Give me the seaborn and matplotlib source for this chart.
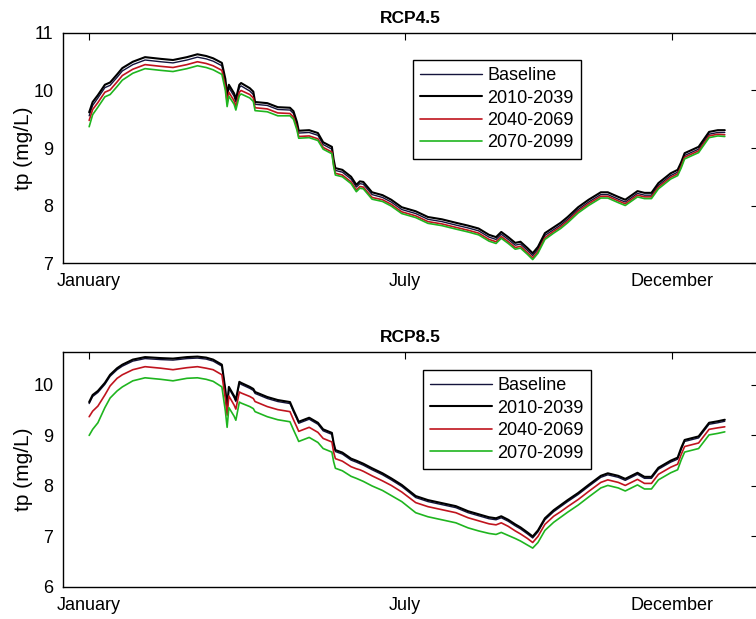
import numpy as np
import pandas as pd
import matplotlib
matplotlib.use("Agg")
import matplotlib.pyplot as plt
import seaborn as sns

# Day of year for each sample
DAYS = [1, 3, 6, 10, 13, 17, 20, 26, 33, 42, 49, 57, 63, 68, 72, 77, 79, 80, 81, 84,
        85, 87, 88, 93, 95, 96, 103, 109, 116, 118, 120, 121, 127, 132, 135, 140, 141, 142, 146, 151,
        154, 156, 158, 163, 169, 174, 180, 188, 195, 203, 211, 218, 224, 230, 234, 237, 241, 245, 248, 252,
        255, 258, 262, 267, 271, 275, 281, 287, 294, 298, 304, 308, 315, 319, 323, 327, 334, 338, 340, 342,
        350, 356, 361, 365]

SERIES = ["Baseline", "2010-2039", "2040-2069", "2070-2099"]

# RCP4.5 total phosphorus (mg/L)
RCP45_BASE = [9.56, 9.74, 9.87, 10.05, 10.09, 10.23, 10.34, 10.45, 10.53, 10.50, 10.48, 10.53, 10.58, 10.55, 10.51, 10.43, 10.15, 9.87, 10.05, 9.90,
              9.80, 10.05, 10.08, 9.99, 9.93, 9.76, 9.74, 9.67, 9.66, 9.60, 9.41, 9.26, 9.27, 9.22, 9.06, 8.98, 8.76, 8.61, 8.58, 8.46,
              8.32, 8.38, 8.37, 8.19, 8.14, 8.06, 7.93, 7.86, 7.76, 7.72, 7.66, 7.61, 7.56, 7.45, 7.41, 7.50, 7.41, 7.31, 7.33, 7.22,
              7.13, 7.24, 7.48, 7.58, 7.66, 7.76, 7.93, 8.06, 8.19, 8.19, 8.11, 8.06, 8.21, 8.18, 8.18, 8.35, 8.52, 8.58, 8.71, 8.87,
              8.98, 9.24, 9.27, 9.27]
RCP45_2010 = [9.62, 9.80, 9.92, 10.10, 10.14, 10.28, 10.39, 10.50, 10.58, 10.55, 10.53, 10.58, 10.63, 10.60, 10.56, 10.48, 10.20, 9.92, 10.10, 9.95,
              9.85, 10.10, 10.13, 10.04, 9.98, 9.80, 9.78, 9.71, 9.70, 9.64, 9.45, 9.30, 9.31, 9.26, 9.10, 9.02, 8.80, 8.65, 8.62, 8.50,
              8.36, 8.42, 8.41, 8.23, 8.18, 8.10, 7.97, 7.90, 7.80, 7.76, 7.70, 7.65, 7.60, 7.49, 7.45, 7.54, 7.45, 7.35, 7.37, 7.26,
              7.17, 7.28, 7.52, 7.62, 7.70, 7.80, 7.97, 8.10, 8.23, 8.23, 8.15, 8.10, 8.25, 8.22, 8.22, 8.39, 8.56, 8.62, 8.75, 8.91,
              9.02, 9.28, 9.31, 9.31]
RCP45_2040 = [9.48, 9.67, 9.79, 9.97, 10.01, 10.15, 10.26, 10.37, 10.45, 10.42, 10.40, 10.45, 10.50, 10.47, 10.43, 10.35, 10.07, 9.79, 9.97, 9.82,
              9.72, 9.97, 10.00, 9.93, 9.87, 9.70, 9.68, 9.61, 9.60, 9.54, 9.35, 9.20, 9.21, 9.16, 9.01, 8.93, 8.71, 8.56, 8.53, 8.41,
              8.27, 8.33, 8.32, 8.14, 8.10, 8.02, 7.89, 7.82, 7.72, 7.68, 7.62, 7.57, 7.52, 7.41, 7.37, 7.46, 7.37, 7.27, 7.29, 7.18,
              7.09, 7.20, 7.44, 7.55, 7.63, 7.73, 7.90, 8.03, 8.16, 8.16, 8.08, 8.03, 8.18, 8.15, 8.15, 8.32, 8.49, 8.55, 8.68, 8.84,
              8.95, 9.21, 9.24, 9.23]
RCP45_2070 = [9.37, 9.58, 9.71, 9.89, 9.93, 10.07, 10.18, 10.30, 10.38, 10.35, 10.33, 10.38, 10.43, 10.40, 10.36, 10.28, 10.00, 9.72, 9.90, 9.76,
              9.66, 9.91, 9.94, 9.87, 9.81, 9.65, 9.63, 9.56, 9.56, 9.50, 9.31, 9.17, 9.18, 9.13, 8.98, 8.90, 8.68, 8.53, 8.50, 8.38,
              8.24, 8.30, 8.29, 8.11, 8.07, 7.99, 7.86, 7.79, 7.69, 7.65, 7.59, 7.54, 7.49, 7.38, 7.34, 7.43, 7.34, 7.24, 7.26, 7.15,
              7.06, 7.17, 7.41, 7.52, 7.60, 7.70, 7.87, 8.00, 8.13, 8.13, 8.05, 8.00, 8.15, 8.12, 8.12, 8.29, 8.46, 8.52, 8.65, 8.81,
              8.92, 9.18, 9.21, 9.20]

# RCP8.5 total phosphorus (mg/L)
RCP85_BASE = [9.63, 9.77, 9.85, 10.01, 10.17, 10.30, 10.37, 10.47, 10.52, 10.50, 10.49, 10.52, 10.53, 10.51, 10.47, 10.37, 9.87, 9.53, 9.93, 9.75,
              9.67, 10.03, 10.01, 9.93, 9.89, 9.83, 9.73, 9.67, 9.63, 9.47, 9.32, 9.24, 9.32, 9.22, 9.09, 9.02, 8.82, 8.68, 8.63, 8.51,
              8.47, 8.44, 8.41, 8.32, 8.22, 8.12, 7.99, 7.77, 7.69, 7.63, 7.57, 7.47, 7.41, 7.35, 7.33, 7.37, 7.30, 7.21, 7.15, 7.05,
              6.97, 7.09, 7.33, 7.49, 7.59, 7.69, 7.83, 7.99, 8.17, 8.22, 8.17, 8.11, 8.23, 8.15, 8.15, 8.33, 8.47, 8.53, 8.72, 8.88,
              8.95, 9.22, 9.25, 9.28]
RCP85_2010 = [9.66, 9.80, 9.88, 10.04, 10.20, 10.33, 10.40, 10.50, 10.55, 10.53, 10.52, 10.55, 10.56, 10.54, 10.50, 10.40, 9.90, 9.56, 9.96, 9.78,
              9.70, 10.06, 10.04, 9.96, 9.92, 9.86, 9.76, 9.70, 9.66, 9.50, 9.35, 9.27, 9.35, 9.25, 9.12, 9.05, 8.85, 8.71, 8.66, 8.54,
              8.50, 8.47, 8.44, 8.35, 8.25, 8.15, 8.02, 7.80, 7.72, 7.66, 7.60, 7.50, 7.44, 7.38, 7.36, 7.40, 7.33, 7.24, 7.18, 7.08,
              7.00, 7.12, 7.36, 7.52, 7.62, 7.72, 7.86, 8.02, 8.20, 8.25, 8.20, 8.14, 8.26, 8.18, 8.18, 8.36, 8.50, 8.56, 8.75, 8.91,
              8.98, 9.25, 9.28, 9.31]
RCP85_2040 = [9.37, 9.48, 9.58, 9.80, 9.98, 10.13, 10.20, 10.30, 10.36, 10.33, 10.30, 10.34, 10.36, 10.33, 10.30, 10.20, 9.72, 9.40, 9.78, 9.60,
              9.52, 9.86, 9.84, 9.77, 9.73, 9.67, 9.57, 9.51, 9.47, 9.31, 9.16, 9.08, 9.16, 9.06, 8.94, 8.87, 8.67, 8.54, 8.49, 8.38,
              8.34, 8.32, 8.29, 8.20, 8.10, 8.01, 7.88, 7.67, 7.59, 7.53, 7.47, 7.37, 7.31, 7.25, 7.23, 7.27, 7.20, 7.11, 7.05, 6.96,
              6.88, 7.00, 7.24, 7.40, 7.49, 7.59, 7.73, 7.89, 8.07, 8.12, 8.07, 8.01, 8.13, 8.05, 8.05, 8.23, 8.37, 8.43, 8.62, 8.78,
              8.85, 9.12, 9.15, 9.17]
RCP85_2070 = [9.00, 9.12, 9.25, 9.55, 9.74, 9.88, 9.96, 10.08, 10.14, 10.11, 10.08, 10.13, 10.14, 10.11, 10.07, 9.96, 9.48, 9.16, 9.55, 9.38,
              9.30, 9.66, 9.64, 9.57, 9.53, 9.47, 9.37, 9.31, 9.27, 9.11, 8.96, 8.88, 8.96, 8.86, 8.74, 8.67, 8.48, 8.35, 8.30, 8.19,
              8.15, 8.12, 8.09, 8.00, 7.91, 7.81, 7.69, 7.47, 7.39, 7.33, 7.27, 7.17, 7.11, 7.06, 7.04, 7.08, 7.02, 6.96, 6.91, 6.83,
              6.77, 6.88, 7.12, 7.28, 7.38, 7.48, 7.62, 7.78, 7.96, 8.01, 7.96, 7.90, 8.02, 7.94, 7.94, 8.12, 8.26, 8.32, 8.51, 8.67,
              8.74, 9.01, 9.04, 9.07]

MONTH_TICKS = [1, 182, 335]
MONTH_LABELS = ["January", "July", "December"]

COLORS = {"Baseline": "#14143c", "2010-2039": "#000000", "2040-2069": "#c0141e", "2070-2099": "#1fb51f"}
WIDTHS = {"Baseline": 1.0, "2010-2039": 1.5, "2040-2069": 1.2, "2070-2099": 1.2}


def long_table(values):
    frames = [pd.DataFrame({"day": DAYS, "tp": v, "period": name}) for name, v in zip(SERIES, values)]
    return pd.concat(frames, ignore_index=True)


sns.set_style("white")
plt.rcParams["font.family"] = ["Liberation Sans", "DejaVu Sans"]
plt.rcParams["text.color"] = "black"
plt.rcParams["axes.labelcolor"] = "black"

fig = plt.figure(figsize=(7.56, 6.19), dpi=100)
ax_top = fig.add_axes([0.0833, 0.5751, 0.9193, 0.3716])
ax_bot = fig.add_axes([0.0833, 0.0517, 0.9193, 0.3796])

panels = [
    (ax_top, "RCP4.5", [RCP45_BASE, RCP45_2010, RCP45_2040, RCP45_2070], (7, 11), [7, 8, 9, 10, 11], (0.504, 0.883)),
    (ax_bot, "RCP8.5", [RCP85_BASE, RCP85_2010, RCP85_2040, RCP85_2070], (6, 10.65), [6, 7, 8, 9, 10], (0.518, 0.923)),
]

for ax, title, values, ylim, yticks, anchor in panels:
    df = long_table(values)
    for name in SERIES:
        sub = df[df["period"] == name]
        sns.lineplot(data=sub, x="day", y="tp", ax=ax, color=COLORS[name],
                     lw=WIDTHS[name], label=name, estimator=None, sort=False)
    ax.set_xlim(-14, 384)
    ax.set_ylim(*ylim)
    ax.set_yticks(yticks)
    ax.set_xticks(MONTH_TICKS)
    ax.set_xticklabels(MONTH_LABELS)
    ax.set_xlabel("")
    ax.set_ylabel("tp (mg/L)", fontsize=15, labelpad=0, color="black")
    ax.set_title(title, fontsize=12.5, fontweight="bold", pad=7, color="black")
    ax.tick_params(direction="in", length=5, width=0.8, top=True, right=True,
                   labelsize=13, pad=7, colors="black")
    for s in ax.spines.values():
        s.set_color("black")
        s.set_linewidth(1.0)
    ax.grid(False)
    leg = ax.legend(loc="upper left", bbox_to_anchor=anchor, borderaxespad=0,
                    fontsize=13, frameon=True, fancybox=False, framealpha=1,
                    edgecolor="black", handlelength=3.4, handletextpad=0.3,
                    labelspacing=0.3, borderpad=0.4)
    leg.get_frame().set_linewidth(1.0)
    for t in leg.get_texts():
        t.set_color("black")

fig.savefig("out.png", dpi=100, facecolor="white")
